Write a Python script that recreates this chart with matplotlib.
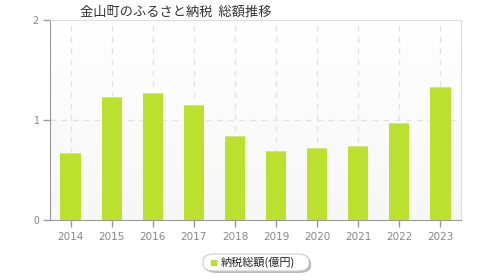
import matplotlib.pyplot as plt
import numpy as np
from matplotlib.patches import FancyBboxPatch

plt.rcParams['font.family'] = ['Noto Sans CJK JP', 'DejaVu Sans']

years = ['2014', '2015', '2016', '2017', '2018', '2019', '2020', '2021', '2022', '2023']
values = [0.67, 1.23, 1.27, 1.15, 0.84, 0.69, 0.72, 0.74, 0.97, 1.33]

title = '金山町のふるさと納税  総額推移'
legend_label = '納税総額(億円)'
bar_color = '#bce02e'

fig = plt.figure(figsize=(4.8, 2.8), dpi=100)
ax = fig.add_axes([50 / 480, 60 / 280, 411 / 480, 200 / 280])

# gradient background of plot area
grad = np.linspace(1.0, 0.0, 100).reshape(-1, 1)
ax.imshow(grad, extent=[-0.5, 9.5, 0, 2], aspect='auto', cmap=plt.cm.colors.LinearSegmentedColormap.from_list('bg', ['#f7f7f7', '#ffffff']), zorder=0)

x = np.arange(len(years))
ax.bar(x, values, width=0.49, color=bar_color, zorder=3)
ax.bar(x, [0.01] * len(values), bottom=np.array(values) - 0.01, width=0.49, color='#d0e67f', zorder=4)

ax.set_xlim(-0.5, 9.5)
ax.set_ylim(0, 2)
ax.set_xticks(x)
ax.set_xticklabels(years)
ax.set_yticks([0, 1, 2])
ax.set_yticklabels(['0', '1', '2'])

for xi in x:
    ax.axvline(xi, color='#e2e2e2', linestyle=(0, (4, 4)), linewidth=1, zorder=1)
ax.axhline(1, color='#e2e2e2', linestyle=(0, (4, 4)), linewidth=1, zorder=1)

ax.tick_params(axis='both', colors='#999999', labelcolor='#888888', labelsize=7.5, length=5, width=1)
ax.tick_params(axis='x', pad=4)
ax.tick_params(axis='y', pad=3)
for lbl in ax.get_xticklabels():
    lbl.set_fontfamily('DejaVu Sans')

ax.spines['left'].set_color('#999999')
ax.spines['bottom'].set_color('#999999')
ax.spines['top'].set_color('#dddddd')
ax.spines['right'].set_color('#dddddd')

fig.text(80 / 480, 1 - 12 / 280, title, fontsize=9.5, color='#333333', va='center', ha='left')

# legend box
box = FancyBboxPatch((203 / 480, 1 - 271 / 280), 106 / 480, 17 / 280,
                     boxstyle='round,pad=0,rounding_size=0.025', transform=fig.transFigure,
                     facecolor='white', edgecolor='#cccccc', linewidth=0.8)
shadow = FancyBboxPatch((205 / 480, 1 - 273 / 280), 106 / 480, 17 / 280,
                        boxstyle='round,pad=0,rounding_size=0.025', transform=fig.transFigure,
                        facecolor='#bbbbbb', edgecolor='none')
fig.patches.append(shadow)
fig.patches.append(box)
fig.patches.append(plt.Rectangle((211 / 480, 1 - 265 / 280), 5 / 480, 5 / 280,
                                 transform=fig.transFigure, color=bar_color))
fig.text(221 / 480, 1 - 262.5 / 280, legend_label, fontsize=8, color='#222222', va='center', ha='left')

fig.savefig('out.png', dpi=100)
